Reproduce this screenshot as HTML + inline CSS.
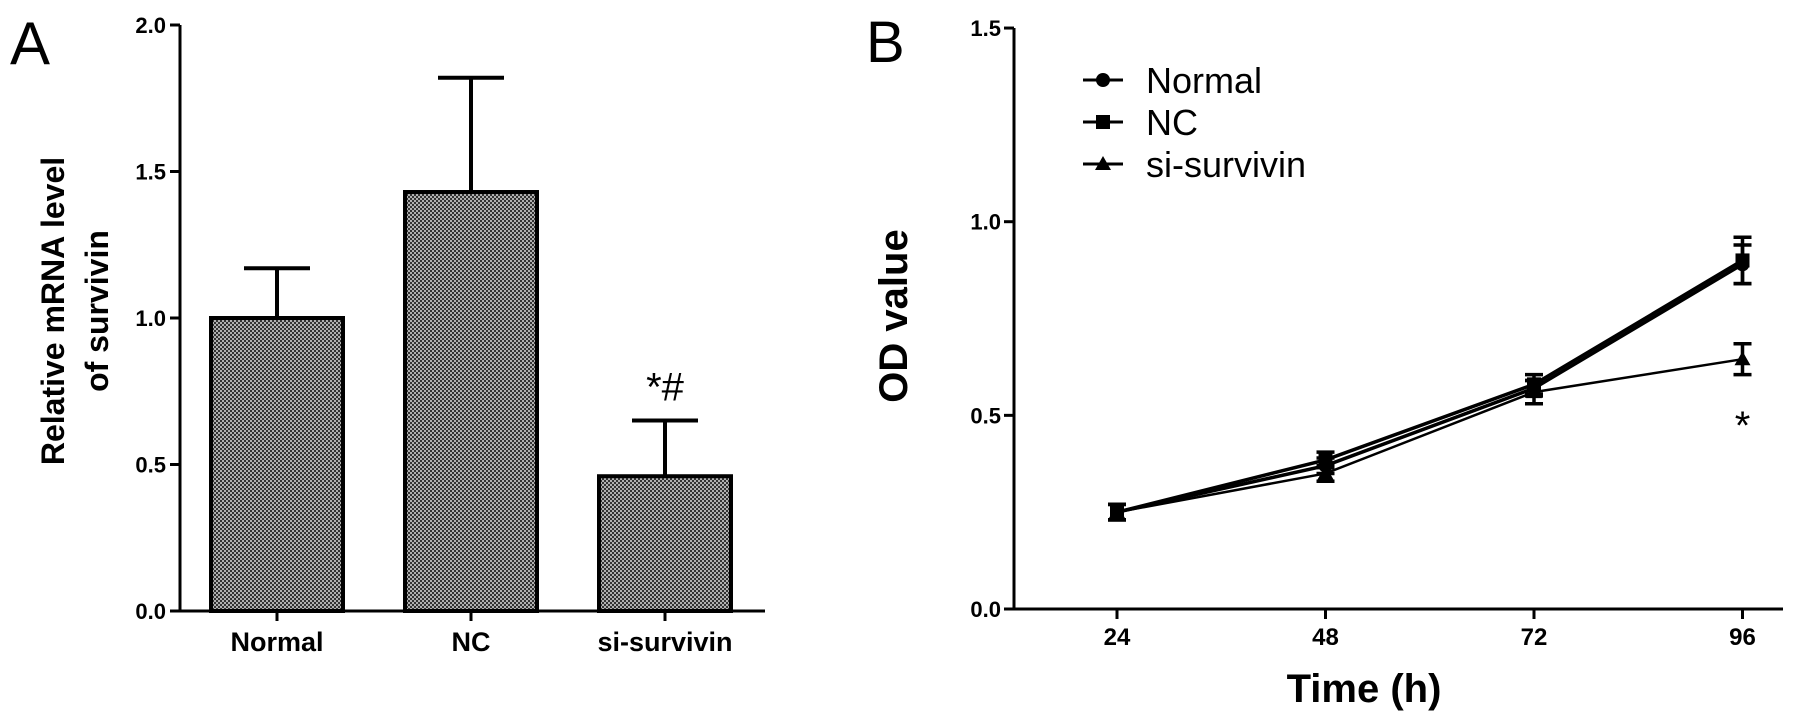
<!DOCTYPE html>
<html><head><meta charset="utf-8"><style>
html,body{margin:0;padding:0;background:#fff;}
svg{display:block;font-family:"Liberation Sans",Arial,sans-serif;}
</style></head><body>
<svg id="fig" width="1795" height="718" viewBox="0 0 1795 718">
<defs>
<pattern id="hatch" width="4" height="4" patternUnits="userSpaceOnUse">
<rect width="4" height="4" fill="#b0b0b0"/>
<rect x="0" y="0" width="2" height="2" fill="#333"/>
<rect x="2" y="2" width="2" height="2" fill="#333"/>
</pattern>
</defs>
<text x="10" y="64" font-size="60">A</text>
<text x="866" y="62" font-size="58">B</text>
<g id="chartA"></g>
<g id="chartB"></g>
</svg>
<script>
// Panel A data
const catsA = ["Normal", "NC", "si-survivin"];
const meansA = [1.0, 1.43, 0.46];
const errsA = [0.17, 0.39, 0.19];
const ticksA = [0, 0.5, 1.0, 1.5, 2.0];
// Panel B data
const timesB = [24, 48, 72, 96];
const seriesNames = ["Normal", "NC", "si-survivin"];
const normalB = [0.25, 0.37, 0.57, 0.89];
const ncB = [0.25, 0.385, 0.58, 0.90];
const siB = [0.25, 0.35, 0.56, 0.645];
const normalErr = [0.02, 0.02, 0.02, 0.05];
const ncErr = [0.02, 0.02, 0.025, 0.06];
const siErr = [0.02, 0.02, 0.03, 0.04];
const ticksB = [0, 0.5, 1.0, 1.5];

const NS = "http://www.w3.org/2000/svg";
function mk(parent, tag, attrs, text){
  const e = document.createElementNS(NS, tag);
  for (const k in attrs) e.setAttribute(k, attrs[k]);
  if (text !== undefined) e.textContent = text;
  parent.appendChild(e);
  return e;
}
// ---------- Panel A ----------
const gA = document.getElementById('chartA');
const yA = v => 611 - v * 293;
const xA = i => 277 + i * 194;
let ax = mk(gA, 'path', {d:`M180 ${yA(2)} V${yA(0)} H765`, stroke:'#000','stroke-width':3, fill:'none'});


ticksA.forEach(t => {
  mk(gA,'line',{x1:170,x2:180,y1:yA(t),y2:yA(t),stroke:'#000','stroke-width':3});
  const l = mk(gA,'text',{x:166,y:yA(t)+8,'font-size':22,'font-weight':'bold','text-anchor':'end'}, t.toFixed(1));
  
  
});
catsA.forEach((c,i) => {
  const cx = xA(i), w = 132;
  const e = mk(gA,'path',{d:`M${cx-33} ${yA(meansA[i]+errsA[i])} H${cx+33} M${cx} ${yA(meansA[i]+errsA[i])} V${yA(meansA[i])}`, stroke:'#000','stroke-width':4, fill:'none'});
  
  
  const b = mk(gA,'rect',{x:cx-w/2,y:yA(meansA[i]),width:w,height:yA(0)-yA(meansA[i]),fill:'url(#hatch)',stroke:'#000','stroke-width':4});
  
  
  mk(gA,'line',{x1:cx,x2:cx,y1:yA(0),y2:yA(0)+10,stroke:'#000','stroke-width':3});
  const l = mk(gA,'text',{x:cx,y:651,'font-size':27,'font-weight':'bold','text-anchor':'middle'}, c);
  
  
});
let sigA = mk(gA,'text',{x:xA(2),y:yA(meansA[2]+errsA[2])-20,'font-size':40,'text-anchor':'middle'},'*#');


let ytA = mk(gA,'text',{transform:'translate(64 311) rotate(-90)','font-size':32,'font-weight':'bold','text-anchor':'middle'});


mk(ytA,'tspan',{x:0,y:0},'Relative mRNA level');
mk(ytA,'tspan',{x:0,dy:44},'of  survivin');

// ---------- Panel B ----------
const gB = document.getElementById('chartB');
const yB = v => 609 - v * 387.3;
const xB = t => 1117 + (t - 24) / 24 * 208.5;
let axB = mk(gB,'path',{d:`M1014 ${yB(1.5)} V${yB(0)} H1783`, stroke:'#000','stroke-width':3, fill:'none'});


ticksB.forEach(t => {
  mk(gB,'line',{x1:1004,x2:1014,y1:yB(t),y2:yB(t),stroke:'#000','stroke-width':3});
  const l = mk(gB,'text',{x:1001,y:yB(t)+8,'font-size':22,'font-weight':'bold','text-anchor':'end'}, t.toFixed(1));
  
  
});
timesB.forEach(t => {
  mk(gB,'line',{x1:xB(t),x2:xB(t),y1:yB(0),y2:yB(0)+10,stroke:'#000','stroke-width':3});
  const l = mk(gB,'text',{x:xB(t),y:645,'font-size':24,'font-weight':'bold','text-anchor':'middle'}, String(t));
  
  
});
function marker(g, shape, x, y){
  if (shape==='circle') return mk(g,'circle',{cx:x,cy:y,r:7,fill:'#000'});
  if (shape==='square') return mk(g,'rect',{x:x-7,y:y-7,width:14,height:14,fill:'#000'});
  return mk(g,'path',{d:`M${x} ${y-8} L${x+8} ${y+6} L${x-8} ${y+6} Z`,fill:'#000'});
}
const allSeries = [[normalB, normalErr, 'circle', 3.5],[ncB, ncErr, 'square', 3.5],[siB, siErr, 'triangle', 2.5]];
allSeries.forEach((s, k) => {
  const g = mk(gB,'g',{});
  
  
  const [vals, errs, shape, sw] = s;
  mk(g,'polyline',{points: vals.map((v,i)=>`${xB(timesB[i])},${yB(v)}`).join(' '), fill:'none', stroke:'#000','stroke-width':sw});
  vals.forEach((v,i) => {
    const x = xB(timesB[i]);
    mk(g,'path',{d:`M${x-9} ${yB(v+errs[i])} H${x+9} M${x} ${yB(v+errs[i])} V${yB(v-errs[i])} M${x-9} ${yB(v-errs[i])} H${x+9}`, stroke:'#000','stroke-width':3.5, fill:'none'});
    marker(g, shape, x, yB(v));
  });
});
let sigB = mk(gB,'text',{x:xB(96),y:yB(siB[3])+80,'font-size':40,'text-anchor':'middle'},'*');


const legShapes = ['circle','square','triangle'];
seriesNames.forEach((n,i) => {
  const y = 80 + i*42;
  const g = mk(gB,'g',{});
  
  
  mk(g,'line',{x1:1083,x2:1123,y1:y,y2:y,stroke:'#000','stroke-width':3});
  marker(g, legShapes[i], 1103, y);
  mk(g,'text',{x:1146,y:y+13,'font-size':36},n);
});
let ytB = mk(gB,'text',{transform:'translate(907 316) rotate(-90)','font-size':40,'font-weight':'bold','text-anchor':'middle'},'OD value');


let xtB = mk(gB,'text',{x:1364,y:702,'font-size':40,'font-weight':'bold','text-anchor':'middle'},'Time (h)');


</script>
</body></html>
